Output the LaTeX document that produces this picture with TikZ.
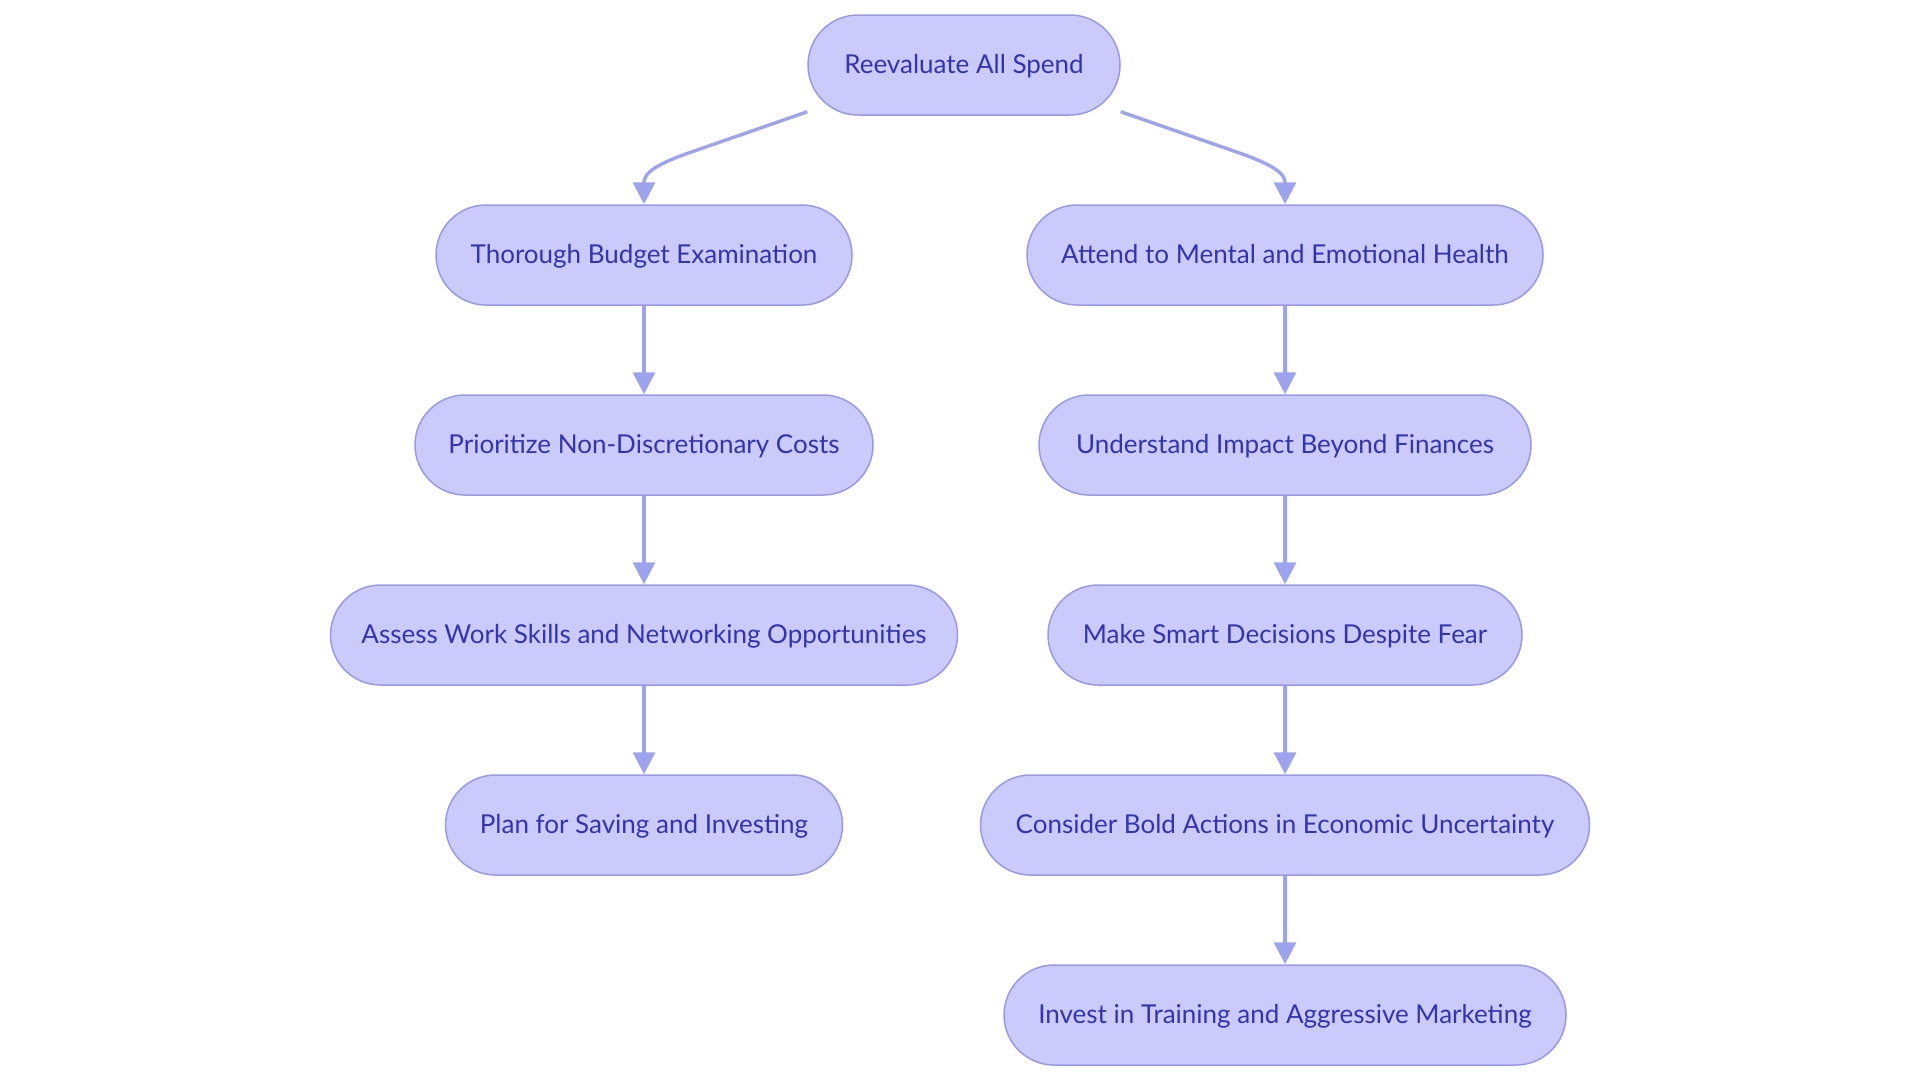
\documentclass[tikz,border=0pt]{standalone}
\usepackage{fontspec}
\setmainfont{Lato}
\usetikzlibrary{arrows.meta,calc}
\definecolor{boxfill}{HTML}{CACAFB}
\definecolor{boxline}{HTML}{9999E6}
\definecolor{boxtext}{HTML}{3333B3}
\definecolor{edgecol}{HTML}{9EA3EE}
\tikzset{
  box/.style={draw=boxline, fill=boxfill, line width=1.5pt, rounded corners=50pt,
    minimum height=100pt, inner sep=0pt, text=boxtext, text height=21pt, text depth=4pt,
    font=\fontsize{26}{30}\selectfont},
  arr/.style={draw=edgecol, line width=3.4pt, -{Triangle[length=22pt,width=22pt]}}
}
\begin{document}
\begin{tikzpicture}[x=1pt,y=-1pt]
\useasboundingbox (0,0) rectangle (1920,1080);
\node[box, minimum width=312pt] (root) at (964,65) {Reevaluate All Spend};
\node[box, minimum width=416pt] (tb) at (644,255) {Thorough Budget Examination};
\node[box, minimum width=458pt] (pr) at (644,445) {Prioritize Non-Discretionary Costs};
\node[box, minimum width=627pt] (as) at (644,635) {Assess Work Skills and Networking Opportunities};
\node[box, minimum width=397pt] (pl) at (644,825) {Plan for Saving and Investing};
\node[box, minimum width=516pt] (at) at (1285,255) {Attend to Mental and Emotional Health};
\node[box, minimum width=492pt] (un) at (1285,445) {Understand Impact Beyond Finances};
\node[box, minimum width=474pt] (ma) at (1285,635) {Make Smart Decisions Despite Fear};
\node[box, minimum width=609pt] (co) at (1285,825) {Consider Bold Actions in Economic Uncertainty};
\node[box, minimum width=562pt] (in) at (1285,1015) {Invest in Training and Aggressive Marketing};
\draw[arr] ($(root.south west)+(0,-4)$) -- ++(-118,41) .. controls +(-40,14) and +(0,-29) .. (tb.north);
\draw[arr] ($(root.south east)+(0,-4)$) -- ++(118,41) .. controls +(40,14) and +(0,-29) .. (at.north);
\draw[arr] (tb.south) -- (pr.north);
\draw[arr] (pr.south) -- (as.north);
\draw[arr] (as.south) -- (pl.north);
\draw[arr] (at.south) -- (un.north);
\draw[arr] (un.south) -- (ma.north);
\draw[arr] (ma.south) -- (co.north);
\draw[arr] (co.south) -- (in.north);
\end{tikzpicture}
\end{document}
